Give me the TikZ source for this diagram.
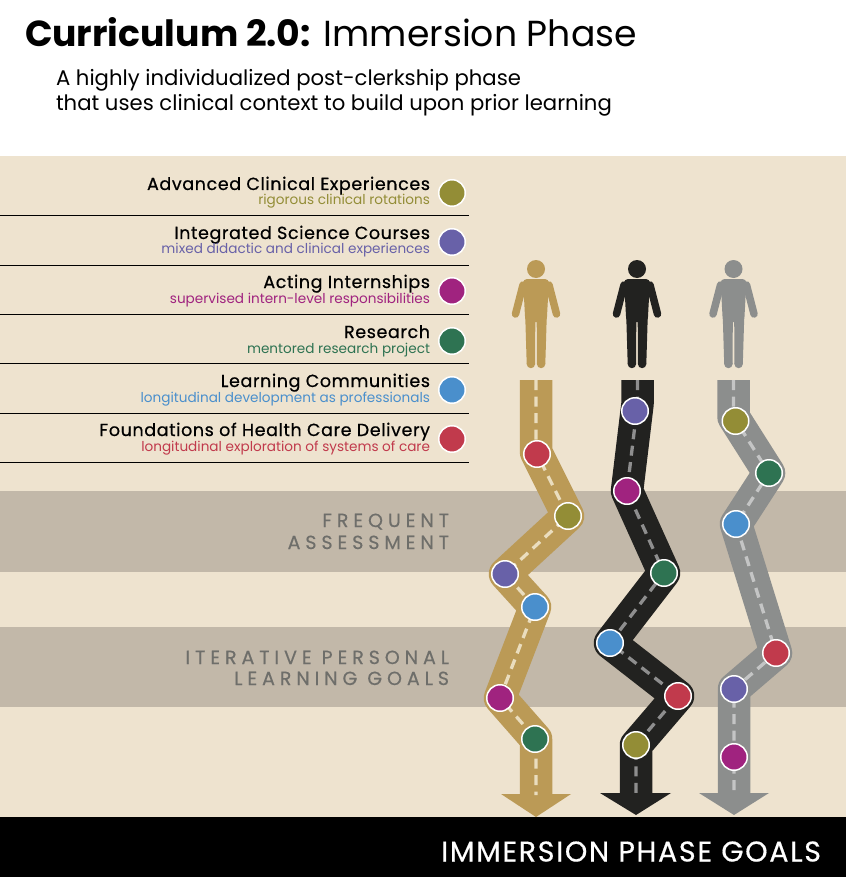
\documentclass[tikz,border=0pt]{standalone}
\usepackage{fontspec}
\setmainfont{Poppins}
\newfontfamily\spacedfont[LetterSpace=26,FakeBold=0.4]{Poppins}
\newfontfamily\headfont[LetterSpace=3.5,FakeBold=0.6]{Poppins}
\newfontfamily\goalfont[LetterSpace=6,FakeBold=0.5]{Poppins}
\usetikzlibrary{positioning,calc}
\definecolor{sand}{HTML}{EEE3CF}
\definecolor{band}{HTML}{C2B8A9}
\definecolor{cOlive}{HTML}{938D36}
\definecolor{cPurple}{HTML}{6861A8}
\definecolor{cMagenta}{HTML}{A0237F}
\definecolor{cGreen}{HTML}{2E7352}
\definecolor{cBlue}{HTML}{4A8FCC}
\definecolor{cRed}{HTML}{C13A4C}
\definecolor{roadA}{HTML}{BB9A56}
\definecolor{roadB}{HTML}{222220}
\definecolor{roadC}{HTML}{8C8E8D}
\definecolor{dashA}{HTML}{EADDBE}
\definecolor{dashB}{HTML}{8E8E8E}
\definecolor{dashC}{HTML}{C4C5C5}
\definecolor{labelgray}{HTML}{6E6E6A}
\newcommand{\px}[1]{\fontsize{#1}{#1}\selectfont}
\newcommand{\legendRow}[6]{\node[anchor=base east, text=black] (h#1) at (430,#2) {\headfont\px{17.5}#3};
	\node[anchor=base east, text=#6] (s#1) at (430,#2+15) {\px{13.6}#4};
	\node[stopdot, fill=#6] (d#1) at (452,#2+3) {};
	\coordinate (ra#1) at (0,#5); \coordinate (rb#1) at (469,#5);
	\draw[rowrule] (ra#1) to (rb#1);}
\newcommand{\person}[2]{\fill[#2] (#1,269) circle (9);
	\fill[#2, rounded corners=4pt] (#1-13,279) -- (#1+13,279) -- (#1+10.7,322) -- (#1-10.7,322) -- cycle;
	\draw[#2, line width=7.5, line cap=round] (#1-13,285) -- (#1-20.5,314);
	\draw[#2, line width=7.5, line cap=round] (#1+13,285) -- (#1+20.5,314);
	\fill[#2] (#1-10.7,318) -- (#1-0.7,318) -- (#1-0.9,364) -- (#1-9.3,364) -- cycle;
	\fill[#2] (#1+10.7,318) -- (#1+0.7,318) -- (#1+0.9,364) -- (#1+9.3,364) -- cycle;
	\fill[#2] (#1-5.1,364) circle (4.2);
	\fill[#2] (#1+5.1,364) circle (4.2);}
\tikzset{
	stopdot/.style={circle, draw=white, line width=1.5, minimum size=26.5, inner sep=0, outer sep=0},
	rowrule/.style={draw=black, line width=1},
	roadbed/.style={line width=32.5, line join=round},
	roadmark/.style={line width=3.3, dash pattern=on 10 off 6.5, line join=round}
}
\begin{document}
\begin{tikzpicture}[x=1pt, y=-1pt, every node/.style={inner sep=0, outer sep=0}]
\useasboundingbox (0,0) rectangle (846,877);
\fill[white] (0,0) rectangle (846,156);
\fill[sand] (0,156) rectangle (846,817);
\fill[band] (0,491) rectangle (846,572);
\fill[band] (0,627) rectangle (846,707);
\fill[black] (0,817) rectangle (846,877);

\node[anchor=base west] (title) at (25,47) {\px{36.2}\textbf{Curriculum 2.0:} Immersion Phase};
\node[anchor=base west] (subA) at (56,86) {\px{21.2}A highly individualized post-clerkship phase};
\node[anchor=base west] (subB) at (56,111) {\px{21.2}that uses clinical context to build upon prior learning};

\legendRow{1}{190}{Advanced Clinical Experiences}{rigorous clinical rotations}{216}{cOlive}
\legendRow{2}{239}{Integrated Science Courses}{mixed didactic and clinical experiences}{265}{cPurple}
\legendRow{3}{288}{Acting Internships}{supervised intern-level responsibilities}{314}{cMagenta}
\legendRow{4}{338}{Research}{mentored research project}{363}{cGreen}
\legendRow{5}{387}{Learning Communities}{longitudinal development as professionals}{413}{cBlue}
\legendRow{6}{436}{Foundations of Health Care Delivery}{longitudinal exploration of systems of care}{462}{cRed}

\node[anchor=base east, text=labelgray] (freqA) at (449,527) {\spacedfont\px{19}FREQUENT};
\node[anchor=base east, text=labelgray] (freqB) at (449,549) {\spacedfont\px{19}ASSESSMENT};
\node[anchor=base east, text=labelgray] (iterA) at (449,664) {\spacedfont\px{19}ITERATIVE PERSONAL};
\node[anchor=base east, text=labelgray] (iterB) at (449,685) {\spacedfont\px{19}LEARNING GOALS};
\node[anchor=base east, text=white] (goals) at (821,861.5) {\goalfont\px{28.5}IMMERSION PHASE GOALS};

\person{536}{roadA}
\person{637}{roadB}
\person{733.5}{roadC}

% gold road
\coordinate (a0) at (536,380); \coordinate (a1) at (536,452); \coordinate (a2) at (568,516);
\coordinate (a3) at (505,574); \coordinate (a4) at (535,607); \coordinate (a5) at (500,698);
\coordinate (a6) at (536,739); \coordinate (a7) at (536,795);
\draw[roadbed, roadA] (a0) -- (a1) -- (a2) -- (a3) -- (a4) -- (a5) -- (a6) -- (a7);
\fill[roadA] (501,794) -- (571,794) -- (536,817) -- cycle;
\draw[roadmark, dashA] (a0) -- (a1) -- (a2) -- (a3) -- (a4) -- (a5) -- (a6) -- (a7);
\node[stopdot, fill=cRed] at (537,454) {};
\node[stopdot, fill=cOlive] at (568,516) {};
\node[stopdot, fill=cPurple] at (505,574) {};
\node[stopdot, fill=cBlue] at (535,607) {};
\node[stopdot, fill=cMagenta] at (500,698) {};
\node[stopdot, fill=cGreen] at (535,739) {};

% black road
\coordinate (b0) at (637.5,380); \coordinate (b1) at (637.5,404); \coordinate (b2) at (627,491);
\coordinate (b3) at (664,573); \coordinate (b4) at (610,643); \coordinate (b5) at (678,696);
\coordinate (b6) at (636,745); \coordinate (b7) at (636,794);
\draw[roadbed, roadB] (b0) -- (b1) -- (b2) -- (b3) -- (b4) -- (b5) -- (b6) -- (b7);
\fill[roadB] (600,793) -- (671,793) -- (636,815) -- cycle;
\draw[roadmark, dashB] (b0) -- (b1) -- (b2) -- (b3) -- (b4) -- (b5) -- (b6) -- (b7);
\node[stopdot, fill=cPurple] at (635,411) {};
\node[stopdot, fill=cMagenta] at (b2) {};
\node[stopdot, fill=cGreen] at (b3) {};
\node[stopdot, fill=cBlue] at (b4) {};
\node[stopdot, fill=cRed] at (b5) {};
\node[stopdot, fill=cOlive] at (b6) {};

% gray road
\coordinate (c0) at (733.5,380); \coordinate (c1) at (733.5,417); \coordinate (c2) at (769,473);
\coordinate (c3) at (736,524); \coordinate (c4) at (776,653); \coordinate (c5) at (734,689);
\coordinate (c6) at (734,757); \coordinate (c7) at (734,794);
\draw[roadbed, roadC] (c0) -- (c1) -- (c2) -- (c3) -- (c4) -- (c5) -- (c6) -- (c7);
\fill[roadC] (699,793) -- (769,793) -- (734,815) -- cycle;
\draw[roadmark, dashC] (c0) -- (c1) -- (c2) -- (c3) -- (c4) -- (c5) -- (c6) -- (c7);
\node[stopdot, fill=cOlive] at (735.5,421) {};
\node[stopdot, fill=cGreen] at (c2) {};
\node[stopdot, fill=cBlue] at (c3) {};
\node[stopdot, fill=cRed] at (c4) {};
\node[stopdot, fill=cPurple] at (c5) {};
\node[stopdot, fill=cMagenta] at (c6) {};
\end{tikzpicture}
\end{document}
